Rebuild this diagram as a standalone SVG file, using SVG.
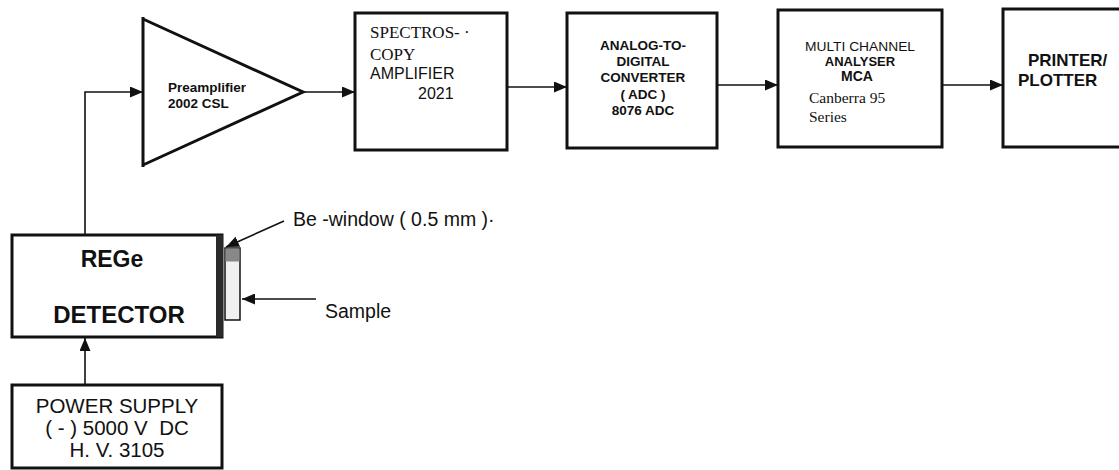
<svg xmlns="http://www.w3.org/2000/svg" width="1119" height="470" viewBox="0 0 1119 470">
  <style>
    .box { fill: #fff; stroke: #111; stroke-width: 3; }
    .wire { fill: none; stroke: #111; stroke-width: 1.6; }
    .sans { font-family: "Liberation Sans", Arial, sans-serif; fill: #111; }
    .serif { font-family: "Liberation Serif", "Times New Roman", serif; fill: #111; }
    .b { font-weight: bold; }
    .mid { text-anchor: middle; }
  </style>
  <defs>
    <marker id="arrow" markerUnits="userSpaceOnUse" markerWidth="13" markerHeight="11" refX="13" refY="5.5" orient="auto">
      <path d="M0,0 L13,5.5 L0,11 Z" fill="#111"/>
    </marker>
  </defs>

  <rect width="1119" height="470" fill="#fff"/>

  <!-- connectors -->
  <g id="connectors">
    <polyline class="wire" points="85,235 85,92 143,92" marker-end="url(#arrow)"/>
    <line class="wire" x1="303" y1="92" x2="355" y2="92" marker-end="url(#arrow)"/>
    <line class="wire" x1="507" y1="87" x2="567" y2="87" marker-end="url(#arrow)"/>
    <line class="wire" x1="717" y1="85" x2="778" y2="85" marker-end="url(#arrow)"/>
    <line class="wire" x1="942" y1="85" x2="1003" y2="85" marker-end="url(#arrow)"/>
    <line class="wire" x1="85" y1="385" x2="85" y2="338" marker-end="url(#arrow)"/>
    <line class="wire" x1="284" y1="221" x2="226" y2="247" marker-end="url(#arrow)"/>
    <line class="wire" x1="316" y1="299" x2="242" y2="299" marker-end="url(#arrow)"/>
  </g>

  <!-- preamplifier -->
  <g id="preamplifier">
    <path d="M143,17 L143,167 M143,19 L303,92 L143,165" fill="none" stroke="#111" stroke-width="3"/>
    <text class="sans b" x="168" y="92" font-size="13.5">Preamplifier</text>
    <text class="sans b" x="168" y="108" font-size="13.5">2002 CSL</text>
  </g>

  <!-- spectroscopy amplifier -->
  <g id="spectroscopy-amplifier">
    <rect class="box" x="355" y="13" width="152" height="137"/>
    <text class="serif" x="370" y="38" font-size="17">SPECTROS- ·</text>
    <text class="serif" x="370" y="60" font-size="17">COPY</text>
    <text class="sans" x="370" y="79" font-size="16">AMPLIFIER</text>
    <text class="sans" x="418" y="99" font-size="16">2021</text>
  </g>

  <!-- ADC -->
  <g id="adc">
    <rect class="box" x="567" y="13" width="150" height="135"/>
    <g class="sans b mid" font-size="13.5">
      <text x="643" y="50">ANALOG-TO-</text>
      <text x="643" y="66">DIGITAL</text>
      <text x="643" y="82">CONVERTER</text>
      <text x="643" y="99">( ADC )</text>
      <text x="643" y="115">8076 ADC</text>
    </g>
  </g>

  <!-- MCA -->
  <g id="mca">
    <rect class="box" x="778" y="10" width="164" height="137"/>
    <text class="sans mid" x="860" y="51" font-size="12" textLength="110" lengthAdjust="spacingAndGlyphs">MULTI CHANNEL</text>
    <text class="sans b mid" x="860" y="66" font-size="13">ANALYSER</text>
    <text class="sans b mid" x="857" y="81" font-size="14">MCA</text>
    <text class="serif" x="809" y="103" font-size="15.5">Canberra 95</text>
    <text class="serif" x="809" y="122" font-size="15.5">Series</text>
  </g>

  <!-- printer / plotter -->
  <g id="printer">
    <rect class="box" x="1003" y="9" width="130" height="138"/>
    <text class="sans b" x="1028" y="66" font-size="17">PRINTER/</text>
    <text class="sans b" x="1018" y="86" font-size="17">PLOTTER</text>
  </g>

  <!-- detector with Be window and sample -->
  <g id="detector">
    <rect class="box" x="12" y="235" width="210" height="102"/>
    <rect x="216" y="235" width="7" height="102" fill="#2a2a2a"/>
    <rect x="225" y="248" width="15" height="72" fill="#f0f0f0" stroke="#111" stroke-width="1.5"/>
    <rect x="225.5" y="248.5" width="14" height="13" fill="#888"/>
    <text class="sans b mid" x="112" y="267" font-size="23">REGe</text>
    <text class="sans b mid" x="119" y="323" font-size="24">DETECTOR</text>
  </g>

  <g id="be-window-label">
    <text class="sans" x="293" y="226" font-size="19.5">Be -window ( 0.5 mm )·</text>
  </g>
  <g id="sample-label">
    <text class="sans" x="325" y="318" font-size="19.5">Sample</text>
  </g>

  <!-- high voltage supply -->
  <g id="power-supply">
    <rect class="box" x="12" y="385" width="210" height="83"/>
    <g class="sans mid" font-size="20.5">
      <text x="117" y="413">POWER SUPPLY</text>
      <text x="117" y="435" xml:space="preserve">( - ) 5000 V  DC</text>
      <text x="117" y="457">H. V. 3105</text>
    </g>
  </g>
</svg>
